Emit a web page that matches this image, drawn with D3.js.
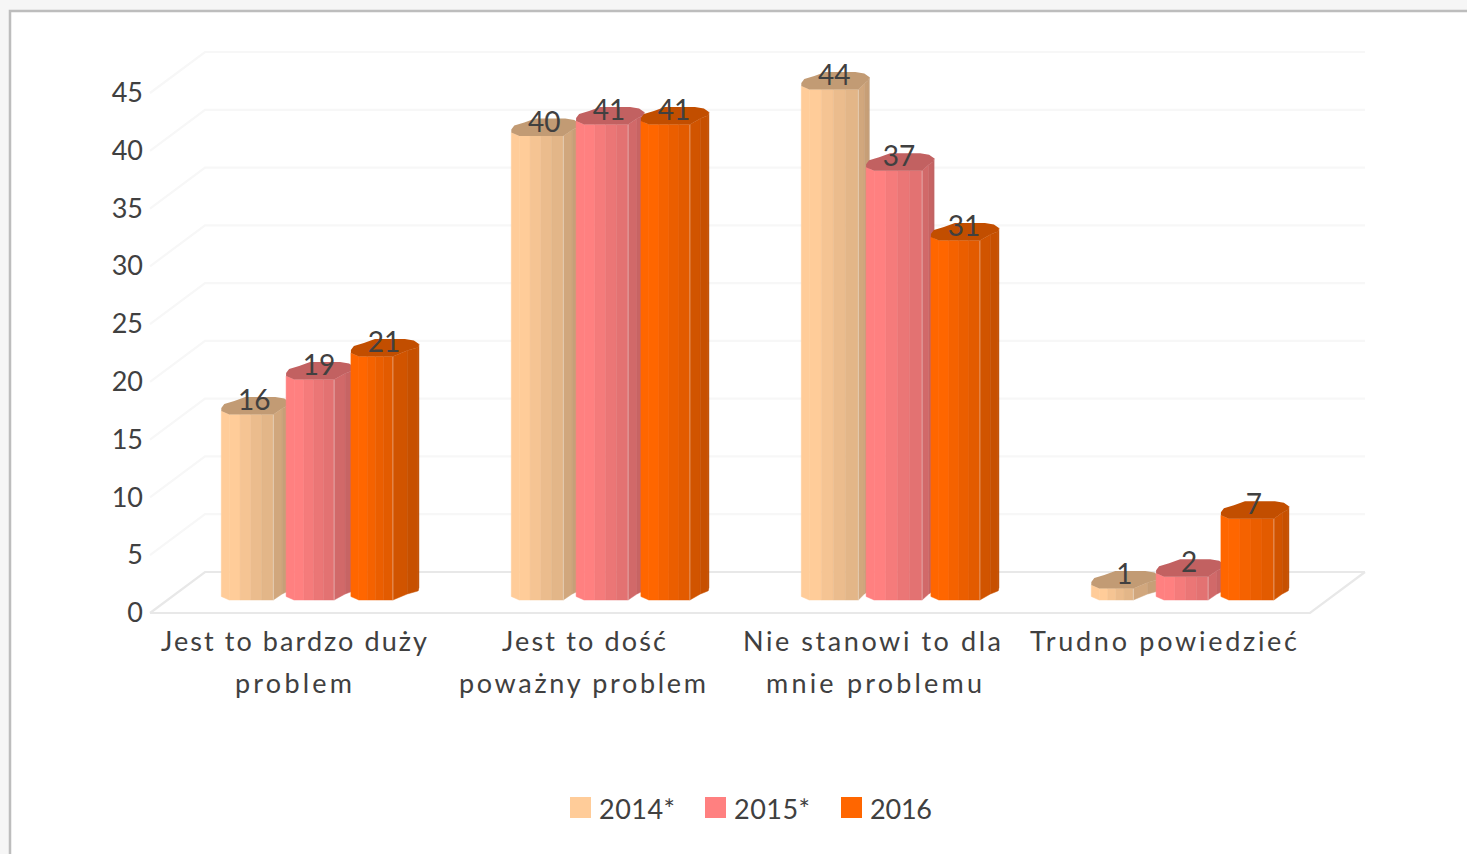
<!DOCTYPE html>
<html><head><meta charset="utf-8">
<script src="https://cdn.jsdelivr.net/npm/d3@7/dist/d3.min.js"></script>
<style>html,body{margin:0;padding:0;background:#fff}svg{display:block}text{font-family:Lato,"Open Sans",sans-serif;fill:#404040}</style>
</head><body><div id="c"></div>
<script>
const categories = ["Jest to bardzo duży problem","Jest to dość poważny problem","Nie stanowi to dla mnie problemu","Trudno powiedzieć"];
const categoryLines = [["Jest to bardzo duży","problem"],["Jest to dość","poważny problem"],["Nie stanowi to dla","mnie problemu"],["Trudno powiedzieć"]];
const seriesNames = ["2014*","2015*","2016"];
const seriesColors = ["#FFCC99","#FF8080","#FF6600"];
const values2014 = [16,40,44,1];
const values2015 = [19,41,37,2];
const values2016 = [21,41,31,7];
const seriesValues = [values2014,values2015,values2016];
const yTicks = [0,5,10,15,20,25,30,35,40,45];

const W=1467,H=854;
const svg=d3.select("#c").append("svg").attr("width",W).attr("height",H);
svg.append("rect").attr("width",W).attr("height",H).attr("fill","#f6f6f6");
svg.append("rect").attr("x",10).attr("y",11).attr("width",W).attr("height",H).attr("fill","#fff").attr("stroke","#bdbdbd").attr("stroke-width",2.5);

const depthX=55,depthY=-41;
const x=d3.scaleBand().domain(categories).range([150,1310]);
const yFront=d3.scaleLinear().domain([0,45]).range([613,93]);
const yBar=d3.scaleLinear().domain([0,45]).range([596.5,74.5]);
const barStep=64.8, barStart=71.3;

// walls and floor
const grid=svg.append("g").attr("fill","none");
yTicks.forEach(t=>{
  const yf=yFront(t), col=t===0?"#e8e8e8":"#f7f7f7";
  const x0=x.range()[0], x1=x.range()[1];
  grid.append("path").attr("d",d3.line()([[x0,yf],[x0+depthX,yf+depthY],[x1+depthX,yf+depthY]])).attr("stroke",col).attr("stroke-width",2.2);
  if(t===0) grid.append("path").attr("d",d3.line()([[x0,yf],[x1,yf],[x1+depthX,yf+depthY]])).attr("stroke",col).attr("stroke-width",2.2);
});

// y axis
const axis=svg.append("g").attr("transform","translate(143,0)")
  .call(d3.axisLeft(yFront).tickValues(yTicks).tickSize(0).tickPadding(0));
axis.select(".domain").remove();
axis.selectAll("text").style("font-family","Lato").style("font-size","27px").attr("fill","#404040");

// prism cross-section, as offsets from the bar's left edge
const faceFactors=[1,1,.96,.92,.89,.82,.78,.75];
function shade(c,f){const r=d3.rgb(c);return d3.rgb(r.r*f,r.g*f,r.b*f).formatHex();}
const breaks=[[52,48,42],[52,52,49],[57,56,49],[42,52,53]];
function profile(b){
  const w=68;
  const s=(b-9)/4;
  return [[0,0],[8,3.5],[8+s,3.5],[8+2*s,3.5],[8+3*s,3.5],[b,3.5],[b+(w-b)*.55,-2.5],[w-1,-5.5],[w,-9]];
}
const barsG=svg.append("g");
const labels=[];
categories.forEach((cat,ci)=>{
  seriesNames.forEach((s,si)=>{
    const v=seriesValues[si][ci], col=seriesColors[si];
    const x0=x(cat)+barStart+si*barStep, y0=yBar(0), y1=yBar(v);
    const p=profile(breaks[ci][si]);
    const g=barsG.append("g");
    const w=p[p.length-1][0];
    const topPts=[...p.map(d=>[x0+d[0],y1+d[1]]),[x0+w-5,y1-12.5],[x0+w-14,y1-14],[x0+24,y1-14],[x0+13,y1-10],[x0+3,y1-7],[x0,y1-3]];
    for(let i=0;i<p.length-1;i++){
      g.append("path").attr("d",d3.line()([
        [x0+p[i][0],y1+p[i][1]],[x0+p[i+1][0],y1+p[i+1][1]],
        [x0+p[i+1][0],y0+p[i+1][1]],[x0+p[i][0],y0+p[i][1]]])+"Z")
       .attr("fill",shade(col,faceFactors[i])).attr("stroke",shade(col,faceFactors[i])).attr("stroke-width",.5);
    }
    const bi=5;
    g.append("line").attr("x1",x0+p[bi][0]).attr("x2",x0+p[bi][0]).attr("y1",y1+p[bi][1]).attr("y2",y0+p[bi][1])
      .attr("stroke","#fff").attr("stroke-opacity",.4).attr("stroke-width",1);
    g.append("path").attr("d",d3.line()(topPts)+"Z").attr("fill",shade(col,.76));
    labels.push({v,x:x0+33,y:y1-12});
  });
});
svg.append("g").selectAll("text").data(labels).join("text")
  .attr("x",d=>d.x).attr("y",d=>d.y).attr("text-anchor","middle").attr("dominant-baseline","central")
  .style("font-size","28px").attr("fill","#333").text(d=>d.v);

// category labels
const lineOffsets=[[-1,-1.5],[-1,-2.5],[-3,-1],[-1.5]];
const lineWidths=[[266,117],[164,247],[258,216],[267]];
categories.forEach((cat,i)=>{
  categoryLines[i].forEach((ln,j)=>{
    svg.append("text").attr("x",x(cat)+x.bandwidth()/2+lineOffsets[i][j]).attr("y",640+j*42)
      .attr("text-anchor","middle").attr("dominant-baseline","central")
      .attr("textLength",lineWidths[i][j]).attr("lengthAdjust","spacing")
      .style("font-size","27px").text(ln);
  });
});

// legend
const legX=[570,705,841], legW=[76,76,62];
seriesNames.forEach((s,i)=>{
  svg.append("rect").attr("x",legX[i]).attr("y",797).attr("width",21).attr("height",21).attr("fill",seriesColors[i]);
  svg.append("text").attr("x",legX[i]+29).attr("y",808).attr("dominant-baseline","central")
    .attr("textLength",legW[i]).attr("lengthAdjust","spacing").style("font-size","27px").text(s);
});
</script></body></html>
